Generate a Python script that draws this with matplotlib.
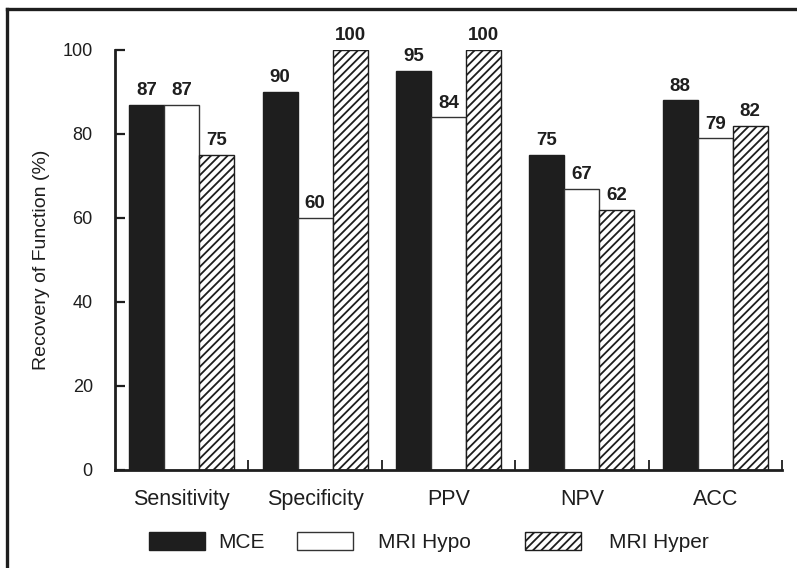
import matplotlib
matplotlib.use("Agg")
import matplotlib.pyplot as plt
from matplotlib.lines import Line2D
import numpy as np

plt.rcParams['font.family'] = ['Liberation Sans', 'DejaVu Sans']
plt.rcParams['hatch.linewidth'] = 1.3

categories = ["Sensitivity", "Specificity", "PPV", "NPV", "ACC"]
series_names = ["MCE", "MRI Hypo", "MRI Hyper"]
mce = [87, 90, 95, 75, 88]
mri_hypo = [87, 60, 84, 67, 79]
mri_hyper = [75, 100, 100, 62, 82]
yticks = [0, 20, 40, 60, 80, 100]

ink = "#1e1e1e"
fig = plt.figure(figsize=(7.97, 5.68), dpi=100)
ax = fig.add_axes([115 / 797, 98 / 568, (782 - 115) / 797, (469 - 49) / 568])

x = np.arange(len(categories))
w = 0.262
styles = [
    dict(color=ink, edgecolor=ink, linewidth=1.0),
    dict(color="white", edgecolor="#333333", linewidth=1.0),
    dict(color="white", edgecolor=ink, linewidth=1.0, hatch="////"),
]
containers = []
for i, (vals, st) in enumerate(zip([mce, mri_hypo, mri_hyper], styles)):
    bc = ax.bar(x + (i - 1) * w, vals, width=w, label=series_names[i], **st)
    containers.append(bc)
    for xi, v in zip(x + (i - 1) * w, vals):
        ax.annotate(f"{v}", (xi, v), xytext=(0, 4), textcoords="offset points",
                    ha="center", va="bottom", fontsize=13.5, fontweight="bold",
                    color=ink, annotation_clip=False)

ax.set_xlim(-0.5, len(categories) - 0.5)
ax.set_ylim(0, 100)
ax.set_yticks(yticks)
ax.tick_params(axis="y", direction="in", length=7, width=1.6, pad=16,
               labelsize=13, colors=ink)
ax.set_xticks(np.arange(len(categories)) + 0.5)
ax.set_xticklabels([])
ax.tick_params(axis="x", which="major", direction="in", length=7, width=1.3, colors=ink)
ax.set_xticks(x, minor=True)
ax.set_xticklabels(categories, minor=True)
ax.tick_params(axis="x", which="minor", length=0, pad=14, labelsize=15.5, colors=ink)

for s in ["top", "right"]:
    ax.spines[s].set_visible(False)
for s in ["left", "bottom"]:
    ax.spines[s].set_linewidth(2.0)
    ax.spines[s].set_color(ink)

ax.set_ylabel("Recovery of Function (%)", fontsize=14, color=ink)
ax.yaxis.set_label_coords(-0.098, 0.5)

# legend entries laid out one by one along the bottom
legend_x = [149 / 797, 297 / 797, 525 / 797]
text_pads = [0.62, 1.2, 1.35]
for bc, lx, tp in zip(containers, legend_x, text_pads):
    leg = fig.legend([bc], [bc.get_label()], loc="center left",
                     bbox_to_anchor=(lx, 26 / 568), frameon=False,
                     fontsize=15, handlelength=2.7, handleheight=0.95,
                     handletextpad=tp, borderpad=0, borderaxespad=0)
    for t in leg.get_texts():
        t.set_color(ink)

# outer frame: top and left edges
fig.add_artist(Line2D([7.5 / 797, 1.0], [1 - 8.5 / 568, 1 - 8.5 / 568],
                      transform=fig.transFigure, color=ink, linewidth=2.4))
fig.add_artist(Line2D([7.5 / 797, 7.5 / 797], [0, 1 - 8.5 / 568],
                      transform=fig.transFigure, color=ink, linewidth=2.4))

fig.savefig("out.png", dpi=100)
